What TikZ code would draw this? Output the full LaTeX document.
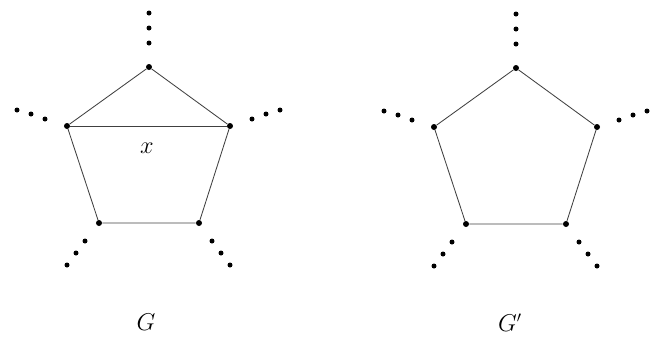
\documentclass[tikz,border=0pt]{standalone}
\usepackage{tikz}
\usetikzlibrary{positioning}

\tikzset{
  vtx/.style={circle,fill=black,inner sep=0pt,minimum size=0.15cm},
  edg/.style={line width=0.6pt,black!75},
  lbl/.style={font=\fontsize{16}{18}\selectfont}
}

\begin{document}
\begin{tikzpicture}[x=0.025cm,y=-0.025cm]
  % Parameters
  \def\dx{367}      % horizontal offset of G'
  \def\r{2.5}       % radius of the small dots

  % page frame
  \useasboundingbox (0,0) rectangle (653,338);

  % the two pentagons
  \foreach \g/\o/\d in {a/0/0,b/\dx/1} {
    \node[vtx] (\g t)  at (149+\o, 67+\d) {};   % top
    \node[vtx] (\g l)  at (67+\o, 126+\d) {};   % left
    \node[vtx] (\g r)  at (230+\o, 126+\d) {};  % right
    \node[vtx] (\g bl) at (99+\o, 223+\d) {};   % bottom left
    \node[vtx] (\g br) at (199+\o, 223+\d) {};  % bottom right

    \draw[edg] (\g t) -- (\g r) -- (\g br) -- (\g bl) -- (\g l) -- (\g t);

    % loose ends (dots)
    \foreach \x/\y in {149/13,149/28,149/43,
                       17/110,31/114,45/119,
                       252/119,266/114,280/110,
                       85/241,76/253,67/265,
                       212/241,221/253,230/265}
      \fill ({\x+\o},{\y+\d}) circle (\r);
  }

  % the chord x in G
  \draw[edg] (al) -- (ar);
  \node[lbl] (xl) at (147,148) {$x$};

  % names
  \node[lbl] (gl) at (146,322) {$G$};
  \node[lbl] (gr) at (510,323) {$G'$};

\end{tikzpicture}
\end{document}
